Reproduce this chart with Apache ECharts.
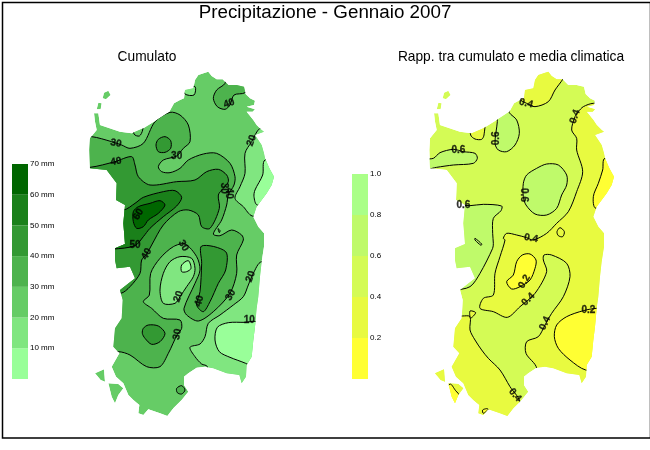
<!DOCTYPE html>
<html>
<head>
<meta charset="utf-8">
<title>Precipitazione - Gennaio 2007</title>
<script src="https://cdn.jsdelivr.net/npm/echarts@6/dist/echarts.min.js"></script>
<style>html,body{margin:0;padding:0;background:#fff}</style>
</head>
<body>
<div id="main" style="width:650px;height:450px;"></div>
<script>
// island shape, map units (both panels use the same outline)
var islandMain = [[268,125],[282,100],[300,90],[312,85],[315,60],[340,55],[345,30],[355,15],[375,8],[385,5],[395,18],[410,28],[428,28],[445,45],[470,45],[492,50],[497,72],[510,85],[525,92],[522,105],[500,110],[525,118],[518,125],[500,125],[520,150],[530,165],[545,180],[552,185],[525,195],[545,225],[552,250],[555,265],[568,295],[582,320],[575,345],[560,370],[530,410],[520,440],[535,470],[552,490],[552,530],[545,575],[540,620],[535,680],[530,715],[525,770],[520,810],[515,860],[500,885],[498,920],[485,940],[478,915],[440,910],[400,895],[375,890],[350,893],[325,910],[312,920],[312,945],[325,965],[305,990],[280,1015],[262,1038],[240,1030],[205,1018],[190,1035],[175,1030],[178,1005],[160,990],[145,975],[130,940],[108,920],[95,890],[118,850],[100,830],[105,775],[125,745],[128,690],[120,660],[165,625],[150,590],[110,595],[105,570],[105,535],[135,522],[130,460],[135,405],[108,390],[110,340],[80,300],[30,295],[28,240],[30,205],[50,180],[45,155],[42,130],[55,130],[60,165],[120,185],[155,190],[190,175],[230,150]];
var islandAsinaraN = [[72,68],[85,62],[92,75],[78,88],[68,85]];
var islandAsinaraS = [[55,98],[65,100],[62,118],[50,118]];
var islandSanPietro = [[45,910],[72,898],[75,935],[62,930]];
var islandAntioco = [[85,940],[115,942],[130,955],[115,975],[105,1000],[95,980]];
var islandPieces = [islandMain, islandAsinaraN, islandAsinaraS, islandSanPietro, islandAntioco];

// colour classes
var cumColors = ['#99ff99','#80e680','#66cc66','#4db34d','#339933','#1a801a','#006600'];
var ratColors = ['#ffff33','#e8fa40','#d4fb55','#bffa6a','#aaff88'];

// legends
var cumBands = [10,10,10,10,10,10,10];
var ratBands = [0.2,0.2,0.2,0.2,0.2];

// cumulato contours
var cum30 = [[35,200],[95,215],[125,225],[150,235],[190,220],[225,155],[270,127],[300,135],[325,165],[330,215],[310,235],[290,258],[250,270],[235,290],[245,305],[270,308],[300,295],[325,270],[370,252],[410,250],[450,280],[465,320],[462,345],[445,375],[440,405],[425,450],[400,492],[420,497],[455,480],[485,495],[490,510],[470,555],[470,610],[450,670],[400,725],[355,753],[320,735],[312,715],[345,640],[360,600],[350,560],[315,522],[280,530],[240,565],[212,610],[208,675],[190,695],[215,715],[250,745],[300,750],[305,775],[292,793],[265,850],[240,890],[200,890],[150,855],[115,845],[-50,850],[-50,200]];
var cum40 = [[30,292],[105,275],[155,260],[165,285],[175,320],[210,345],[290,335],[345,330],[380,305],[415,298],[440,315],[445,335],[430,355],[415,375],[418,415],[390,475],[365,470],[355,435],[325,420],[295,425],[250,465],[215,525],[200,552],[185,570],[180,610],[150,650],[122,670],[-50,680],[-50,292]];
var cum40North = [[228,225],[235,208],[255,200],[272,212],[272,235],[255,247],[235,245]];
var cum40Center = [[365,528],[437,545],[437,600],[415,640],[390,695],[370,725],[350,705],[360,665],[365,580]];
var cum40South = [[190,775],[205,765],[235,768],[255,790],[240,815],[215,823],[195,805],[187,790]];
var cum50 = [[130,420],[165,400],[190,382],[250,365],[285,362],[305,382],[290,408],[250,440],[210,475],[190,500],[165,527],[100,537],[-50,540],[-50,420]];
var cum60 = [[160,425],[175,410],[210,400],[240,392],[255,405],[235,430],[205,450],[190,470],[170,475],[160,455]];
var cumNorthEast = [[435,40],[410,60],[400,85],[412,110],[435,118],[450,105],[462,75],[495,68],[520,30],[440,0]];
var cumNorthBay = [[345,50],[342,75],[315,72],[310,50]];
var cumBayLoop = [[162,192],[178,198],[188,180],[188,150],[162,150]];
var cumLoopSouth = [[290,955],[305,947],[315,960],[305,972],[292,968]];
var cumTiny = [[414,476],[420,482],[418,488]];
var cumEast = [[540,175],[515,215],[495,250],[495,310],[480,350],[465,385],[490,410],[517,438],[640,450],[640,130]];
var cumEastLow = [[555,270],[548,315],[525,360],[522,380],[532,405],[640,410],[640,260]];
var cumSouthEast = [[545,575],[520,610],[505,645],[490,680],[460,705],[420,735],[385,760],[375,800],[360,822],[330,832],[345,860],[365,882],[382,890],[400,1110],[700,1110],[700,570]];
var cumSouthEastLow = [[530,755],[495,757],[445,758],[412,772],[405,810],[418,845],[450,862],[497,880],[560,910],[640,810]];
var cumMiddle = [[300,560],[335,565],[345,595],[340,620],[320,650],[300,680],[285,700],[250,700],[240,660],[250,610],[270,575]];
var cumMiddleLow = [[305,585],[325,572],[333,595],[320,605],[305,605]];
// class index + contour
var cumRegions = [[3,cum30],[4,cum40],[4,cum40North],[4,cum40Center],[4,cum40South],[5,cum50],[6,cum60],[3,cumNorthEast],[1,cumNorthBay],[2,cumBayLoop],[3,cumLoopSouth],[3,cumTiny],[1,cumEast],[0,cumEastLow],[1,cumSouthEast],[0,cumSouthEastLow],[1,cumMiddle],[0,cumMiddleLow]];

// rapporto contours
var ratNorth = [[430,25],[405,60],[385,95],[345,110],[320,100],[300,88],[280,40],[300,-20],[450,-20]];
var ratEast = [[490,110],[475,125],[465,140],[455,180],[470,205],[470,240],[488,305],[470,365],[445,425],[410,460],[380,490],[340,510],[320,503],[290,495],[260,490],[250,505],[255,510],[240,560],[225,610],[220,675],[190,685],[180,715],[220,725],[262,742],[300,710],[345,670],[380,605],[370,570],[372,555],[395,555],[440,580],[450,620],[430,680],[395,730],[375,765],[355,800],[320,815],[318,850],[350,895],[350,1110],[700,1110],[700,100],[520,100]];
var ratEastHigh = [[555,265],[548,300],[535,340],[520,380],[528,415],[700,420],[700,260]];
var ratSouthEast = [[530,715],[490,722],[440,740],[410,765],[403,800],[415,835],[450,870],[497,900],[600,910],[700,710]];
var ratMiddle = [[307,555],[330,552],[348,570],[345,595],[330,630],[300,650],[275,657],[260,635],[280,615],[290,575]];
var ratLoop = [[420,473],[433,485],[428,500],[415,497],[411,485]];
var ratBay = [[152,195],[165,207],[185,208],[192,195],[192,150],[152,150]];
var ratSouthWest = [[127,738],[150,740],[150,780],[165,810],[185,840],[205,865],[240,900],[270,950],[300,995],[310,1110],[-50,1110],[-50,738]];
var ratTriangle = [[150,723],[167,728],[152,744]];
var ratAntioco = [[90,942],[107,962],[120,978],[118,990],[100,1010],[70,980]];
var ratNorthWest = [[268,128],[290,150],[298,190],[285,225],[260,245],[235,240],[225,220],[232,155],[232,120],[268,110]];
var ratWest = [[50,292],[100,285],[160,280],[172,265],[165,250],[130,245],[100,238],[60,248],[40,265],[0,270],[0,300]];
var ratCenter = [[310,340],[320,315],[350,295],[380,282],[415,285],[440,315],[440,345],[425,375],[410,415],[380,435],[345,432],[318,405],[310,380]];
var ratOristano = [[115,405],[150,407],[190,403],[245,408],[243,422],[220,445],[218,490],[220,520],[218,535],[180,610],[150,650],[100,660],[0,660],[0,405]];
var ratNick = [[165,505],[185,522],[183,526],[165,510]];
var ratCape = [[188,1020],[200,1016],[205,1018],[190,1030]];
var ratRegions = [[1,ratNorth],[1,ratEast],[0,ratEastHigh],[0,ratSouthEast],[0,ratMiddle],[1,ratLoop],[1,ratBay],[1,ratSouthWest],[1,ratTriangle],[0,ratAntioco],[3,ratNorthWest],[3,ratWest],[3,ratCenter],[3,ratOristano],[3,ratNick],[0,ratCape]];

// contour labels: x, y, text, rotation
var cumLabels = [[108,220,'30',-10],[108,275,'40',10],[447,100,'40',20],[515,212,'20',70],[290,258,'30',0],[432,355,'30',-90],[447,370,'40',-90],[175,433,'60',60],[165,527,'50',0],[200,552,'40',60],[310,527,'30',-60],[295,680,'20',70],[358,693,'40',75],[452,675,'30',60],[512,620,'20',70],[292,793,'30',80],[508,752,'10',0]];
var ratLabels = [[318,100,'0.4',-15],[465,140,'0.4',70],[115,240,'0.6',0],[230,205,'0.6',90],[310,375,'0.6',-90],[130,405,'0.6',0],[333,505,'0.4',-10],[313,635,'0.2',60],[325,688,'0.4',45],[375,760,'0.4',65],[505,720,'0.2',0],[285,975,'0.4',-50]];

function scalePts(api, pts) {
	return pts.map(function (p) { return api.coord(p); });
}

// one group per island piece, clipped to that piece
function mapSeries(gridIndex, baseColor, colors, regions) {
	return {
		type: 'custom',
		xAxisIndex: gridIndex,
		yAxisIndex: gridIndex,
		clip: false,
		silent: true,
		data: islandPieces.map(function (p, i) { return [i]; }),
		renderItem: function (params, api) {
			var outline = scalePts(api, islandPieces[api.value(0)]);
			var children = [{ type: 'polygon', shape: { points: outline }, style: { fill: baseColor, stroke: null } }];
			regions.forEach(function (r) {
				children.push({
					type: 'polygon',
					shape: { points: scalePts(api, r[1]), smooth: 0.3 },
					style: { fill: colors[r[0]], stroke: '#000', lineWidth: 1 }
				});
			});
			return {
				type: 'group',
				clipPath: { type: 'polygon', shape: { points: outline } },
				children: children
			};
		}
	};
}

function labelSeries(gridIndex, labels) {
	return {
		type: 'scatter',
		xAxisIndex: gridIndex,
		yAxisIndex: gridIndex,
		symbolSize: 0,
		silent: true,
		z: 5,
		data: labels.map(function (l) {
			return {
				value: [l[0], l[1]],
				label: { show: true, position: 'inside', formatter: l[2], rotate: l[3], color: '#000', fontFamily: 'Liberation Sans', fontWeight: 'bold', fontSize: 10, textBorderColor: '#000', textBorderWidth: 0.3 }
			};
		})
	};
}

function bandSeries(gridIndex, bands, colors) {
	return bands.map(function (v, i) {
		return {
			type: 'bar',
			xAxisIndex: gridIndex,
			yAxisIndex: gridIndex,
			stack: 'legend' + gridIndex,
			barWidth: '100%',
			silent: true,
			data: [v],
			itemStyle: { color: colors[i] }
		};
	});
}

function mapAxisX(i) { return { gridIndex: i, type: 'value', min: 0, max: 600, show: false }; }
function mapAxisY(i) { return { gridIndex: i, type: 'value', min: 0, max: 1050, inverse: true, show: false }; }
function legendAxisX(i) { return { gridIndex: i, type: 'category', data: [''], show: false }; }
function legendAxisY(i, max, step, fmt) {
	return {
		gridIndex: i, type: 'value', min: 0, max: max, interval: step, position: 'right',
		axisLine: { show: false }, axisTick: { show: false }, splitLine: { show: false },
		axisLabel: { show: true, margin: 2, color: '#000', fontFamily: 'Liberation Sans', fontSize: 8, formatter: fmt }
	};
}

var myChart = echarts.init(document.getElementById('main'), null, { renderer: 'canvas' });

var titleFont = { fontFamily: 'Liberation Sans', fontWeight: 'normal', color: '#000' };

var option = {
	animation: false,
	backgroundColor: '#fff',
	title: [
		{ text: 'Precipitazione - Gennaio 2007', left: 325, top: 3, padding: 0, textAlign: 'center', textStyle: Object.assign({ fontSize: 18.8 }, titleFont) },
		{ text: 'Cumulato', left: 147, top: 50, padding: 0, textAlign: 'center', textStyle: Object.assign({ fontSize: 13.75 }, titleFont) },
		{ text: 'Rapp. tra cumulato e media climatica', left: 511, top: 50, padding: 0, textAlign: 'center', textStyle: Object.assign({ fontSize: 13.75 }, titleFont) }
	],
	graphic: [{ type: 'rect', left: 0, top: 0, z: 10, silent: true, shape: { width: 648, height: 435.5 }, style: { fill: null, stroke: '#000', lineWidth: 1.5 } }],
	grid: [
		{ left: 80, top: 70, width: 200, height: 350 },
		{ left: 420, top: 70, width: 200, height: 350 },
		{ left: 12, top: 164, width: 16, height: 215 },
		{ left: 352, top: 174, width: 16, height: 205 }
	],
	xAxis: [mapAxisX(0), mapAxisX(1), legendAxisX(2), legendAxisX(3)],
	yAxis: [
		mapAxisY(0),
		mapAxisY(1),
		legendAxisY(2, 70, 10, function (v) { return v === 0 ? '' : v + ' mm'; }),
		legendAxisY(3, 1, 0.2, function (v) { return v === 0 ? '' : v.toFixed(1); })
	],
	series: [
		mapSeries(0, cumColors[2], cumColors, cumRegions),
		mapSeries(1, ratColors[2], ratColors, ratRegions),
		labelSeries(0, cumLabels),
		labelSeries(1, ratLabels)
	].concat(bandSeries(2, cumBands, cumColors), bandSeries(3, ratBands, ratColors))
};

myChart.setOption(option);
</script>
</body>
</html>
